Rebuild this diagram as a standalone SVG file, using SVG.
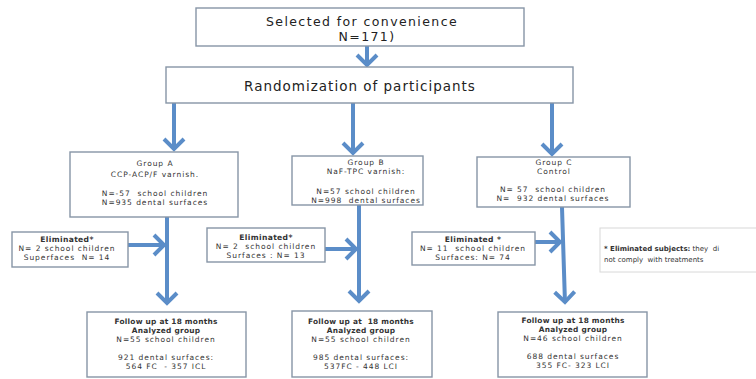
<svg xmlns="http://www.w3.org/2000/svg" width="756" height="379" viewBox="0 0 756 379">
<defs>
<style>
.box{fill:#ffffff;stroke:#8795a6;stroke-width:1.4}
.note{fill:#ffffff;stroke:#d8d8d8;stroke-width:1}
.t{font-family:"DejaVu Sans",sans-serif;fill:#333;text-anchor:middle;white-space:pre}
.big{font-size:13.5px;letter-spacing:1px;fill:#222}
.sel{font-size:12.5px;letter-spacing:1.4px;fill:#222}
.s{font-size:7.5px;letter-spacing:0.95px}
.b{font-size:7.4px;font-weight:bold;letter-spacing:0.25px}
.eb{font-size:7.6px;font-weight:bold;letter-spacing:0.35px}
.n{font-size:7px;text-anchor:start}
.c{fill:none;stroke:#5b8dc8;stroke-width:4}
</style>
<marker id="ah" markerUnits="userSpaceOnUse" viewBox="-2 -14 18 28" markerWidth="18" markerHeight="28" refX="12" refY="0" orient="auto">
<path d="M1,-10 L11,0 L1,10" fill="none" stroke="#5b8dc8" stroke-width="4"/>
</marker>
</defs>
<rect width="756" height="379" fill="#ffffff"/>

<g id="connectors">
<path class="c" d="M367,46 V66" marker-end="url(#ah)"/>
<path class="c" d="M174,103 V150" marker-end="url(#ah)"/>
<path class="c" d="M353,103 V154" marker-end="url(#ah)"/>
<path class="c" d="M552,103 V155" marker-end="url(#ah)"/>
<path class="c" d="M167,217 V304" marker-end="url(#ah)"/>
<path class="c" d="M359,205 V302" marker-end="url(#ah)"/>
<path class="c" d="M562,207 L565,303" marker-end="url(#ah)"/>
<path class="c" d="M128,245 H165" marker-end="url(#ah)"/>
<path class="c" d="M325,249 H357" marker-end="url(#ah)"/>
<path class="c" d="M535,242 H561" marker-end="url(#ah)"/>
</g>

<g id="selected">
<rect class="box" x="196" y="8" width="328" height="38"/>
<text class="t sel" x="362" y="26">Selected for convenience</text>
<text class="t sel" x="367" y="41">N=171)</text>
</g>

<g id="randomization">
<rect class="box" x="166" y="67" width="407" height="36"/>
<text class="t big" x="360" y="91">Randomization of participants</text>
</g>

<g id="groupA">
<rect class="box" x="70" y="152" width="168" height="65"/>
<text class="t s" x="155" y="166">Group A</text>
<text class="t s" x="155" y="177">CCP-ACP/F varnish.</text>
<text class="t s" x="155" y="196">N=-57  school children</text>
<text class="t s" x="155" y="205">N=935 dental surfaces</text>
</g>

<g id="groupB">
<rect class="box" x="292" y="156" width="131" height="49"/>
<text class="t s" x="366" y="165">Group B</text>
<text class="t s" x="366" y="174">NaF-TPC varnish:</text>
<text class="t s" x="366" y="194">N=57 school children</text>
<text class="t s" x="366" y="203">N=998  dental surfaces</text>
</g>

<g id="groupC">
<rect class="box" x="477" y="157" width="153" height="50"/>
<text class="t s" x="554" y="165">Group C</text>
<text class="t s" x="554" y="174">Control</text>
<text class="t s" x="553" y="192">N= 57  school children</text>
<text class="t s" x="553" y="201">N=  932 dental surfaces</text>
</g>

<g id="elimA">
<rect class="box" x="12" y="232" width="116" height="35"/>
<text class="t eb" x="67" y="242">Eliminated*</text>
<text class="t s" x="67" y="251">N= 2 school children</text>
<text class="t s" x="67" y="260">Superfaces  N= 14</text>
</g>

<g id="elimB">
<rect class="box" x="207" y="228" width="118" height="34"/>
<text class="t eb" x="266" y="240">Eliminated*</text>
<text class="t s" x="266" y="249">N= 2  school children</text>
<text class="t s" x="266" y="258">Surfaces : N= 13</text>
</g>

<g id="elimC">
<rect class="box" x="412" y="232" width="123" height="33"/>
<text class="t eb" x="473" y="242">Eliminated *</text>
<text class="t s" x="473" y="251">N= 11  school children</text>
<text class="t s" x="473" y="260">Surfaces: N= 74</text>
</g>

<g id="note">
<rect class="note" x="600" y="228" width="170" height="44"/>
<text class="t n" x="604" y="251"><tspan font-weight="bold">* Eliminated subjects:</tspan> they  di</text>
<text class="t n" x="604" y="262">not comply  with treatments</text>
</g>

<g id="followA">
<rect class="box" x="87" y="312" width="159" height="65"/>
<text class="t b" x="166" y="324">Follow up at 18 months</text>
<text class="t b" x="166" y="333">Analyzed group</text>
<text class="t s" x="166" y="342">N=55 school children</text>
<text class="t s" x="166" y="360">921 dental surfaces:</text>
<text class="t s" x="166" y="369">564 FC  - 357 ICL</text>
</g>

<g id="followB">
<rect class="box" x="292" y="311" width="140" height="66"/>
<text class="t b" x="361" y="324">Follow up at  18 months</text>
<text class="t b" x="361" y="333">Analyzed group</text>
<text class="t s" x="361" y="342">N=55 school children</text>
<text class="t s" x="361" y="360">985 dental surfaces:</text>
<text class="t s" x="361" y="369">537FC - 448 LCI</text>
</g>

<g id="followC">
<rect class="box" x="498" y="312" width="149" height="65"/>
<text class="t b" x="573" y="323">Follow up at 18 months</text>
<text class="t b" x="573" y="332">Analyzed group</text>
<text class="t s" x="573" y="341">N=46 school children</text>
<text class="t s" x="573" y="359">688 dental surfaces</text>
<text class="t s" x="573" y="368">355 FC- 323 LCI</text>
</g>
</svg>
